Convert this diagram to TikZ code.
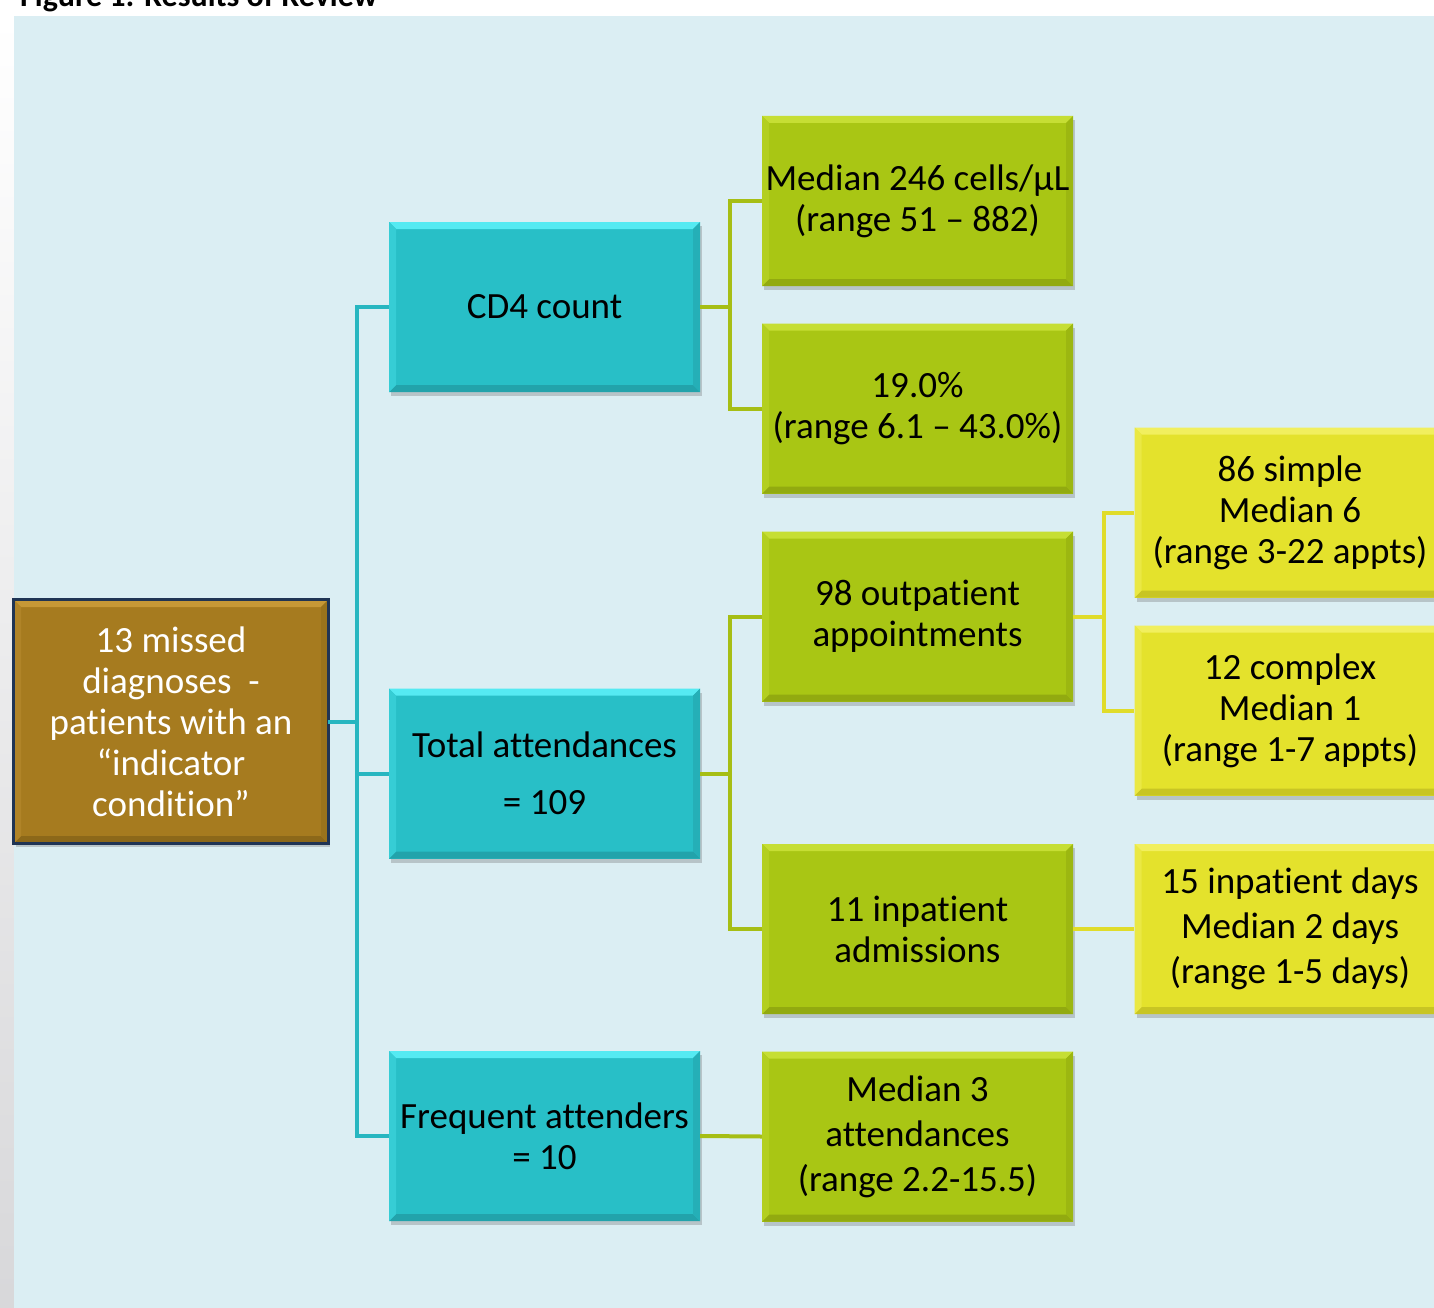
\documentclass[tikz,border=0pt]{standalone}
\usepackage{fontspec}
\setmainfont{Carlito}[Ligatures={CommonOff,ContextualOff}]
\usetikzlibrary{shadows,calc}
\definecolor{bgblue}{HTML}{DBEEF3}
\definecolor{tealF}{HTML}{28BFC7}
\definecolor{tealT}{HTML}{55EAF2}
\definecolor{tealB}{HTML}{22A3AB}
\definecolor{tealL}{HTML}{36CDD5}
\definecolor{tealR}{HTML}{25AFB7}
\definecolor{greenF}{HTML}{A9C614}
\definecolor{greenT}{HTML}{C6DE34}
\definecolor{greenB}{HTML}{92AA10}
\definecolor{greenL}{HTML}{B3CF20}
\definecolor{greenR}{HTML}{9CB711}
\definecolor{yelF}{HTML}{E4E22C}
\definecolor{yelT}{HTML}{F1EF5E}
\definecolor{yelB}{HTML}{C8C524}
\definecolor{yelL}{HTML}{EAE844}
\definecolor{yelR}{HTML}{D6D328}
\definecolor{brF}{HTML}{A67B1F}
\definecolor{brT}{HTML}{C69836}
\definecolor{brB}{HTML}{8C6819}
\definecolor{brL}{HTML}{B08428}
\definecolor{brR}{HTML}{99731C}
\definecolor{navy}{HTML}{1F3454}
\definecolor{tealLine}{HTML}{27B6C0}
\definecolor{greenLine}{HTML}{A6BE14}
\definecolor{yelLine}{HTML}{E0DC2A}
\tikzset{
  bevel/.style n args={4}{path picture={
    \fill[#1] (path picture bounding box.north west) -- (path picture bounding box.north east)
      -- ([xshift=-7pt,yshift=-7pt]path picture bounding box.north east)
      -- ([xshift=7pt,yshift=-7pt]path picture bounding box.north west) -- cycle;
    \fill[#2] (path picture bounding box.south west) -- (path picture bounding box.south east)
      -- ([xshift=-7pt,yshift=7pt]path picture bounding box.south east)
      -- ([xshift=7pt,yshift=7pt]path picture bounding box.south west) -- cycle;
    \fill[#3] (path picture bounding box.north west) -- (path picture bounding box.south west)
      -- ([xshift=7pt,yshift=7pt]path picture bounding box.south west)
      -- ([xshift=7pt,yshift=-7pt]path picture bounding box.north west) -- cycle;
    \fill[#4] (path picture bounding box.north east) -- (path picture bounding box.south east)
      -- ([xshift=-7pt,yshift=7pt]path picture bounding box.south east)
      -- ([xshift=-7pt,yshift=-7pt]path picture bounding box.north east) -- cycle;
  }},
  box/.style={rectangle, inner sep=0pt, minimum width=311pt, minimum height=170pt,
    align=center, font=\fontsize{37}{41}\selectfont, text=black,
    drop shadow={shadow xshift=2pt, shadow yshift=-4pt, opacity=0.3, fill=black!60}},
  tealbox/.style={box, fill=tealF, bevel={tealT}{tealB}{tealL}{tealR}},
  greenbox/.style={box, fill=greenF, bevel={greenT}{greenB}{greenL}{greenR}},
  yelbox/.style={box, fill=yelF, bevel={yelT}{yelB}{yelL}{yelR}},
  rootbox/.style={box, minimum width=314pt, minimum height=243pt, fill=brF, text=white,
    bevel={brT}{brB}{brL}{brR}},
  conn/.style={line width=4pt},
  tconn/.style={conn, draw=tealLine},
  gconn/.style={conn, draw=greenLine},
  yconn/.style={conn, draw=yelLine},
}
\begin{document}
\begin{tikzpicture}[x=1pt,y=-1pt]
\useasboundingbox (0,0) rectangle (1434,1308);
\fill[white] (0,0) rectangle (1434,1308);
\begin{scope}
\clip (0,0) rectangle (1434,16);
\node[anchor=base west, inner sep=0pt, font=\bfseries\fontsize{32}{36}\selectfont] (title) at (20,7) {Figure 1: Results of Review};
\end{scope}
\shade[top color=white, bottom color=black!5!blue!3!gray!30] (0,16) rectangle (14,1308);
\fill[bgblue] (14,16) rectangle (1434,1308);

% level 0
\node[rootbox] (root) at (171,721.5) {13 missed\\diagnoses\ \ -\\patients with an\\“indicator\\condition”};
\draw[navy, line width=3pt] (root.north west) rectangle (root.south east);
% level 1
\node[tealbox] (cd4) at (544.5,307) {CD4 count};
\node[tealbox] (total) at (544.5,773.5) {Total attendances\\[16pt]= 109};
\node[tealbox] (freq) at (544.5,1136) {Frequent attenders\\= 10};
% level 2
\node[greenbox] (med246) at (917.5,201) {Median 246 cells/µL\\(range 51 – 882)};
\node[greenbox] (pct) at (917.5,408.5) {19.0\%\\(range 6.1 – 43.0\%)};
\node[greenbox] (outp) at (917.5,616.5) {98 outpatient\\appointments};
\node[greenbox] (inp) at (917.5,929) {11 inpatient\\admissions};
\node[greenbox] (med3) at (917.5,1136.5) {Median 3\\[4pt]attendances\\[4pt](range 2.2-15.5)};
% level 3
\node[yelbox] (simple) at (1290,512.5) {86 simple\\Median 6\\(range 3-22 appts)};
\node[yelbox] (complex) at (1290,710.5) {12 complex\\Median 1\\(range 1-7 appts)};
\node[yelbox] (days) at (1290,929) {15 inpatient days\\[4pt]Median 2 days\\[4pt](range 1-5 days)};

% connectors
\coordinate (j1) at ($(root.east)+(29,0)$);
\draw[tconn] (root.east) -- (j1) |- (cd4.west);
\draw[tconn] (root.east) -- (j1) |- (total.west);
\draw[tconn] (root.east) -- (j1) |- (freq.west);
\coordinate (j2) at ($(cd4.east)+(30,0)$);
\draw[gconn] (cd4.east) -- (j2) |- (med246.west);
\draw[gconn] (cd4.east) -- (j2) |- (pct.west);
\coordinate (j3) at ($(total.east)+(30,0)$);
\draw[gconn] (total.east) -- (j3) |- (outp.west);
\draw[gconn] (total.east) -- (j3) |- (inp.west);
\draw[gconn] (freq.east) -- (med3.west);
\coordinate (j4) at ($(outp.east)+(31,0)$);
\draw[yconn] (outp.east) -- (j4) |- (simple.west);
\draw[yconn] (outp.east) -- (j4) |- (complex.west);
\draw[yconn] (inp.east) -- (days.west);
\end{tikzpicture}
\end{document}
